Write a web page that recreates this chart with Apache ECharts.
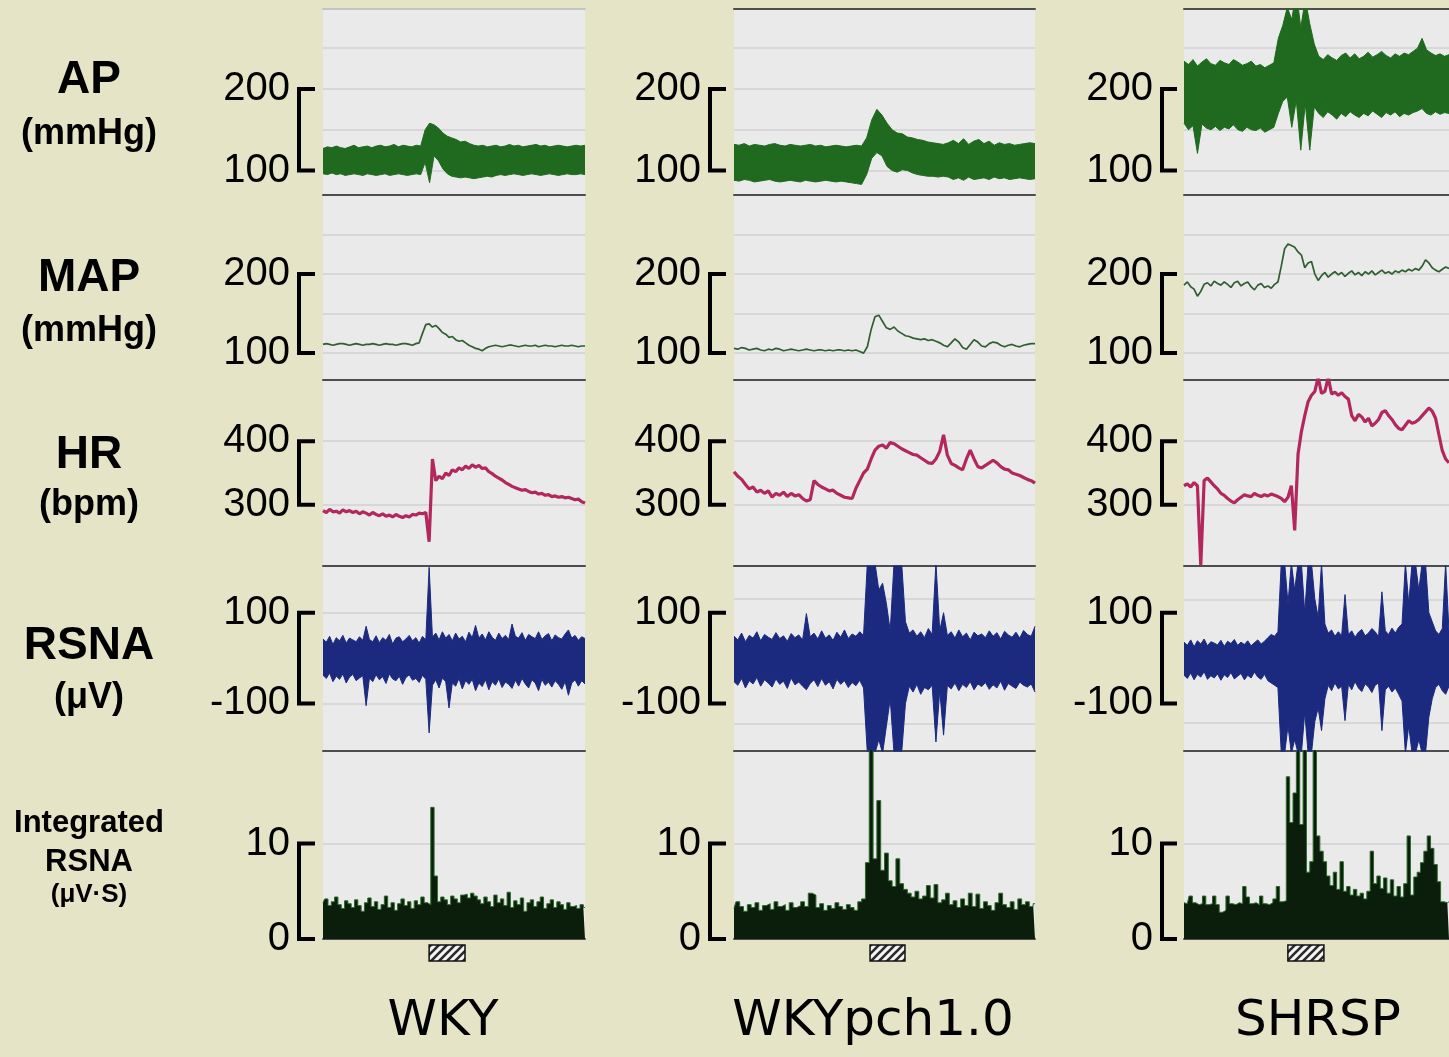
<!DOCTYPE html>
<html><head><meta charset="utf-8">
<script src="https://cdn.jsdelivr.net/npm/echarts@6/dist/echarts.min.js"></script>
<style>html,body{margin:0;padding:0;background:#e6e4c7;}#c{width:1449px;height:1057px;}</style>
</head><body><div id="c"></div>
<script>
// ---------------- DATA ----------------
const strains = ['WKY', 'WKYpch1.0', 'SHRSP'];
const rowTitles = ['AP', 'MAP', 'HR', 'RSNA'];
const rowUnits = ['(mmHg)', '(mmHg)', '(bpm)', '(\u03BCV)'];
const irsnaTitle = ['Integrated', 'RSNA', '(\u03BCV\u00B7S)'];

// scale-bar tick values per row
const apTicks = [100, 200];
const mapTicks = [100, 200];
const hrTicks = [300, 400];
const rsnaTicks = [-100, 100];
const irsnaTicks = [0, 10];

// background grid lines per row
const apGridVals = [100, 150, 200, 250];
const mapGridVals = [100, 150, 200, 250];
const hrGridVals = [300, 400];
const rsnaGridVals = [[-100, 100], [-145, 130], [-143, 128]];
const irsnaGridVals = [10];

// stimulus period (percent of recording time)
const stimStart = [40.5, 45.2, 39.2];
const stimEnd = [54.2, 56.8, 52.8];

// ---- WKY ----
const wkyApUpper = [127,129,128,130,128,127,129,131,128,129,130,128,130,131,129,130,132,129,131,130,129,131,130,
  150,158,156,152,146,142,140,138,135,136,133,131,130,131,129,130,131,
  129,130,132,130,131,129,130,131,132,130,131,129,130,131,130,129,130,131,130,131];
const wkyApLower = [96,95,97,95,96,94,95,96,95,94,96,95,94,95,96,94,95,96,95,94,95,96,95,
  110,85,118,112,102,96,93,92,91,92,91,90,91,92,93,92,94,
  95,94,95,96,95,94,95,96,95,94,95,96,95,94,95,96,95,95,96,95];
const wkyMap = [111,112,111,110,111,112,112,111,110,111,112,111,110,111,111,112,111,110,111,112,111,111,110,111,112,112,111,110,112,
  113,125,136,137,133,135,131,126,124,120,121,117,115,116,113,110,108,106,105,103,106,108,
  109,110,109,108,109,110,110,109,108,109,110,109,109,110,108,109,110,109,109,108,109,110,109,109,110,109,108,109,109];
const wkyHr = [291,288,293,289,290,287,292,289,291,288,290,286,289,287,284,288,285,283,286,282,284,281,285,282,280,283,281,285,284,287,286,288,
  242,372,338,345,341,350,346,355,352,358,355,361,357,363,359,362,357,358,352,349,345,342,339,335,332,329,327,325,323,324,
  321,319,320,317,318,315,316,313,314,312,313,311,312,310,308,309,305,303];
const wkyRsnaUpper = [42,35,48,30,45,38,50,33,44,40,36,47,39,70,
  41,36,49,34,45,39,52,31,44,47,36,42,50,38,45,33,48,40,200,
  46,55,40,58,44,52,38,55,42,48,36,57,45,72,
  44,53,40,58,46,39,55,43,50,41,75,
  48,44,56,39,52,47,43,58,41,49,54,38,51,45,42,53,62,44,50,39,47,43];
const wkyRsnaLower = [-38,-45,-33,-52,-40,-47,-35,-55,-42,-36,-50,-44,-39,-105,
  -44,-52,-37,-48,-41,-56,-35,-46,-50,-40,-58,-43,-37,-49,-45,-54,-38,-47,-165,
  -60,-48,-66,-44,-52,-110,-55,-62,-45,-68,-50,-58,-47,-72,
  -55,-63,-48,-70,-52,-60,-46,-65,-53,-58,-67,
  -49,-62,-45,-57,-66,-48,-55,-72,-47,-60,-53,-64,-50,-58,-69,-52,-82,-55,-48,-62,-50,-57];
const wkyIrsna = [3.8,4.2,3.5,3.9,4.4,3.6,3.2,4.0,3.7,3.3,4.1,3.5,2.9,3.8,4.3,3.4,3.9,3.1,3.6,4.5,3.3,3.8,3.0,3.7,4.2,3.5,3.9,3.2,4.0,3.6,4.4,3.8,
  3.6,13.8,6.6,
  3.9,4.4,4.1,3.6,4.5,4.2,3.8,4.6,4.7,4.3,4.8,4.5,4.1,3.7,4.4,3.9,3.4,4.6,3.8,4.2,3.5,4.9,3.3,4.0,3.6,4.3,2.9,3.8,4.1,3.4,3.9,4.4,3.2,3.7,4.1,3.3,3.9,3.6,3.1,3.8,3.4,3.5,3.2,3.6,3.3];

// ---- WKYpch1.0 ----
const pchApUpper = [132,131,133,130,132,131,130,132,133,131,130,132,131,130,131,132,130,131,129,130,131,130,129,130,131,130,
  140,162,175,168,158,150,146,145,141,140,138,137,135,134,133,132,
  134,137,133,139,132,136,138,133,136,131,134,132,133,131,132,133,134,133];
const pchApLower = [88,87,89,88,86,87,88,89,87,86,87,88,87,86,88,87,86,87,88,87,86,87,86,85,84,83,
  95,115,122,118,105,100,98,101,100,97,95,94,93,93,92,93,
  92,89,91,88,92,89,90,91,89,92,90,91,89,90,91,90,89,90];
const pchMap = [106,105,107,106,104,105,106,104,103,105,104,106,105,103,104,105,104,103,104,105,104,103,104,104,103,104,103,104,104,103,104,103,104,102,
  100,108,130,146,148,140,132,130,133,128,125,122,121,119,118,117,118,116,117,115,113,110,108,113,118,114,107,105,111,117,
  114,109,108,112,114,113,110,108,110,111,109,108,110,111,112,112];
const pchHr = [352,345,340,332,325,328,320,323,318,322,312,318,315,320,313,318,314,316,310,306,
  308,338,332,328,325,322,323,318,315,312,311,310,326,338,350,356,372,386,392,394,
  389,398,396,392,388,385,382,379,378,374,370,366,365,372,384,410,378,365,362,358,
  355,372,386,372,360,358,362,366,370,366,360,356,355,350,348,346,343,340,338,334];
const pchRsnaUpper = [48,40,55,36,50,44,58,38,52,46,41,56,43,49,37,54,45,51,40,98,
  47,55,42,60,44,51,39,57,46,62,43,53,48,58,50,
  210,210,210,150,165,120,60,210,210,210,80,
  55,62,48,58,45,65,52,210,60,100,
  50,58,44,62,47,55,40,57,49,53,45,60,48,56,42,59,51,46,57,44,61,52,48,70];
const pchRsnaLower = [-52,-60,-45,-66,-50,-57,-43,-62,-48,-55,-64,-46,-58,-51,-67,-44,-59,-53,-62,-70,
  -56,-48,-63,-45,-60,-52,-68,-47,-58,-50,-65,-54,-61,-49,-66,
  -210,-210,-210,-180,-210,-150,-90,-210,-210,-210,-100,
  -62,-75,-58,-80,-65,-70,-60,-185,-72,-170,
  -60,-68,-55,-72,-58,-65,-52,-70,-57,-63,-54,-69,-59,-66,-51,-71,-56,-62,-67,-53,-60,-64,-57,-75];
const pchIrsna = [3.2,3.9,3.4,2.9,3.6,3.3,3.8,3.0,3.5,3.7,3.1,3.9,3.4,3.6,3.0,3.8,3.3,3.5,3.9,3.4,
  4.8,4.6,3.3,3.7,3.0,3.5,3.2,3.8,3.4,3.1,3.6,3.3,3.0,3.9,
  4.2,8.0,25,8.4,14.5,7.2,9.0,6.1,5.5,8.4,5.8,5.2,4.8,4.4,5.0,4.2,4.5,5.6,4.3,5.7,
  3.8,4.1,4.8,3.6,4.0,3.3,4.2,3.5,4.8,3.4,4.7,3.2,3.9,3.5,3.0,3.8,4.8,3.6,3.3,3.9,3.1,4.2,3.6,3.9,3.4,3.7];

// ---- SHRSP ----
const shrspApUpper = [234,230,236,228,233,237,231,229,235,232,230,236,233,229,231,234,228,230,226,229,232,
  262,278,300,285,320,275,310,280,255,
  240,236,242,238,235,241,244,238,243,237,240,245,239,242,246,241,238,243,240,244,242,246,250,262,248,244,241,243,240,242];
const shrspApLower = [158,150,155,121,157,152,150,154,149,153,151,156,150,148,153,150,149,152,147,150,153,
  170,185,190,153,186,125,182,125,178,
  170,165,172,168,163,170,166,172,168,165,170,167,173,169,165,171,168,172,166,170,168,171,173,176,170,168,172,169,171,170];
const shrspMap = [186,190,184,181,172,178,187,189,185,191,188,186,190,187,183,189,191,185,188,190,184,180,186,188,183,185,182,187,
  190,210,232,238,236,234,228,224,208,214,216,200,192,198,202,196,200,203,199,202,197,201,204,199,202,198,
  203,200,204,199,202,205,201,203,200,204,202,205,203,206,204,207,205,210,218,214,208,205,203,206,209,207];
const shrspHr = [330,333,328,335,330,205,338,342,336,330,325,318,315,310,306,303,308,312,316,314,
  313,318,315,313,316,314,317,315,313,310,305,312,330,260,380,415,440,462,472,478,
  500,475,478,500,474,477,472,476,470,466,440,432,442,438,430,436,424,428,434,445,
  448,440,434,426,420,418,425,432,428,430,434,440,446,452,447,436,410,385,372,366];
const shrspRsnaUpper = [35,28,40,25,38,31,42,27,36,33,29,39,26,37,32,41,28,35,30,38,27,34,40,31,37,45,52,48,58,
  210,210,120,210,150,210,210,100,210,210,130,90,210,75,
  55,62,48,58,50,140,52,60,46,57,63,49,55,65,58,47,146,60,52,66,55,68,75,
  210,120,210,210,150,210,210,100,80,
  60,52,65,210,58];
const shrspRsnaLower = [-38,-45,-33,-48,-36,-42,-30,-47,-39,-44,-35,-49,-37,-43,-32,-46,-40,-34,-48,-38,-44,-31,-42,-47,-36,-50,-55,-60,-65,
  -210,-210,-150,-210,-180,-210,-210,-120,-210,-210,-140,-110,-160,-90,
  -60,-72,-55,-68,-62,-138,-58,-70,-52,-66,-74,-57,-64,-76,-60,-55,-160,-70,-62,-75,-66,-80,-95,
  -210,-150,-210,-210,-180,-210,-210,-130,-90,
  -65,-58,-72,-80,-62];
const shrspIrsna = [3.8,3.7,4.5,3.8,3.6,3.7,4.5,3.6,3.7,4.5,3.6,2.8,3.0,4.5,3.7,3.6,3.8,3.7,5.5,4.4,
  3.7,3.8,3.6,4.5,3.7,3.6,3.8,4.2,5.5,3.9,4.0,17.0,12.2,15.3,25,12.0,25,7.0,8.1,25,
  10.8,9.2,8.1,6.6,5.6,7.0,5.2,8.1,5.0,5.5,4.6,5.2,4.5,4.8,4.2,5.0,9.2,5.8,6.6,5.3,
  6.4,4.8,6.2,4.5,5.5,4.4,5.8,10.8,4.6,6.5,7.0,8.0,9.2,10.8,9.5,7.8,6.0,3.9,3.8,3.9];

// ---------------- LAYOUT / STYLE ----------------
const colX = [[323, 585], [734, 1035], [1184, 1449]];
const rowY = [[9, 195], [195, 380], [380, 566], [566, 751], [751, 939]];
const rowRange = [[70, 298], [66, 300], [204, 496], [-205, 203], [0, 19.7]];
const bracketX = [[299, 315], [710, 726], [1162, 1177]];
const titleX = [443, 873, 1318];
const topLineColor = ['#c4c4c4', '#4d4d4d', '#4d4d4d'];
const ticksByRow = [apTicks, mapTicks, hrTicks, rsnaTicks, irsnaTicks];

const data = [
  {apU: wkyApUpper, apL: wkyApLower, map: wkyMap, hr: wkyHr, rsU: wkyRsnaUpper, rsL: wkyRsnaLower, ir: wkyIrsna},
  {apU: pchApUpper, apL: pchApLower, map: pchMap, hr: pchHr, rsU: pchRsnaUpper, rsL: pchRsnaLower, ir: pchIrsna},
  {apU: shrspApUpper, apL: shrspApLower, map: shrspMap, hr: shrspHr, rsU: shrspRsnaUpper, rsL: shrspRsnaLower, ir: shrspIrsna}
];

const C_AP = '#1f6a1f', C_MAP = '#2f5f2f', C_HR = '#b2285c', C_RSNA = '#1b2a7e', C_IR = '#0b1d0b', C_IR_EDGE = '#2a6a2a';
const PANEL_BG = '#eaeaea', GRIDLINE = '#d0d0d0', SEP = '#4d4d4d';
const FONT = '"Liberation Sans", Arial, sans-serif';

function idx(n) { return Array.from({length: n}, (_, i) => i); }
function diffs(u, l) { return u.map((v, i) => v - l[i]); }

// hatch pattern for stimulus bar
const pc = document.createElement('canvas'); pc.width = 8; pc.height = 8;
const pctx = pc.getContext('2d');
pctx.fillStyle = '#f4f4f4'; pctx.fillRect(0, 0, 8, 8);
pctx.strokeStyle = '#2a2a2a'; pctx.lineWidth = 2.6; pctx.beginPath();
pctx.moveTo(-1, 9); pctx.lineTo(9, -1); pctx.moveTo(-3, 3); pctx.lineTo(3, -3); pctx.moveTo(5, 11); pctx.lineTo(11, 5);
pctx.stroke();

const grids = [], xAxes = [], yAxes = [], series = [];
const extraX = [];
function addGrid(left, top, width, height, opts) {
  grids.push(Object.assign({left, top, width, height, containLabel: false}, opts || {}));
  return grids.length - 1;
}

for (let c = 0; c < 3; c++) {
  const d = data[c];
  for (let r = 0; r < 5; r++) {
    const [x0, x1] = colX[c], [y0, y1] = rowY[r];
    const n = r === 0 ? d.apU.length : r === 1 ? d.map.length : r === 2 ? d.hr.length : r === 3 ? d.rsU.length : d.ir.length;
    const g = addGrid(x0, y0, x1 - x0, y1 - y0, {show: true, backgroundColor: PANEL_BG, borderWidth: 0});
    xAxes.push({gridIndex: g, type: 'category', data: idx(n), boundaryGap: false, position: 'bottom',
      axisLine: {show: true, onZero: false, lineStyle: {color: SEP, width: 2}},
      axisTick: {show: false}, axisLabel: {show: false}, splitLine: {show: false}});
    if (r === 0) {
      extraX.push({gridIndex: g, type: 'category', data: idx(n), boundaryGap: false, position: 'top',
        axisLine: {show: true, onZero: false, lineStyle: {color: topLineColor[c], width: 2}},
        axisTick: {show: false}, axisLabel: {show: false}, splitLine: {show: false}});
    }
    yAxes.push({gridIndex: g, type: 'value', min: rowRange[r][0], max: rowRange[r][1], show: false, splitLine: {show: false}});
    const gv = r === 0 ? apGridVals : r === 1 ? mapGridVals : r === 2 ? hrGridVals : r === 3 ? rsnaGridVals[c] : irsnaGridVals;
    const markLine = {silent: true, z: 1, symbol: ['none', 'none'], label: {show: false}, animation: false,
      lineStyle: {color: GRIDLINE, width: 1.5, type: 'solid'},
      data: gv.map(v => ({yAxis: v}))};
    const base = {xAxisIndex: g, yAxisIndex: g, symbol: 'none', silent: true, z: 3, animation: false};
    if (r === 0 || r === 3) {
      const u = r === 0 ? d.apU : d.rsU, l = r === 0 ? d.apL : d.rsL, col = r === 0 ? C_AP : C_RSNA;
      series.push(Object.assign({}, base, {type: 'line', data: l, stack: 'b' + g, stackStrategy: 'all',
        lineStyle: {color: col, width: 1}, markLine}));
      series.push(Object.assign({}, base, {type: 'line', data: diffs(u, l), stack: 'b' + g, stackStrategy: 'all',
        lineStyle: {color: col, width: 1}, areaStyle: {color: col, opacity: 1}}));
    } else if (r === 1) {
      series.push(Object.assign({}, base, {type: 'line', data: d.map, lineStyle: {color: C_MAP, width: 1.7}, markLine}));
    } else if (r === 2) {
      series.push(Object.assign({}, base, {type: 'line', data: d.hr, lineStyle: {color: C_HR, width: 3.2}, markLine}));
    } else {
      series.push(Object.assign({}, base, {type: 'line', step: 'middle', data: d.ir,
        lineStyle: {color: C_IR_EDGE, width: 1}, areaStyle: {color: C_IR, opacity: 1, origin: 'start'}, markLine}));
    }
  }
}

// scale brackets (tick labels drawn by the bracket's own y axis)
for (let c = 0; c < 3; c++) {
  for (let r = 0; r < 5; r++) {
    const [y0, y1] = rowY[r];
    const [bx0, bx1] = bracketX[c];
    const g = addGrid(bx0, y0, bx1 - bx0, y1 - y0);
    const [t0, t1] = ticksByRow[r];
    xAxes.push({gridIndex: g, type: 'value', min: 0, max: 1, show: false});
    yAxes.push({gridIndex: g, type: 'value', min: rowRange[r][0], max: rowRange[r][1], show: true, position: 'left',
      axisLine: {show: false}, axisTick: {show: false, customValues: [t0, t1]}, splitLine: {show: false},
      axisLabel: {show: true, customValues: [t0, t1], margin: 9, fontSize: 40, fontFamily: FONT, color: '#000',
        showMinLabel: true, showMaxLabel: true}});
    series.push({type: 'line', xAxisIndex: g, yAxisIndex: g, symbol: 'none', silent: true, animation: false, clip: false,
      data: [[1, t1], [0, t1], [0, t0], [1, t0]], lineStyle: {color: '#000', width: 4, cap: 'butt', join: 'miter'}});
  }
}

// stimulus bars
for (let c = 0; c < 3; c++) {
  const [x0, x1] = colX[c];
  const g = addGrid(x0, 945, x1 - x0, 16);
  xAxes.push({gridIndex: g, type: 'value', min: 0, max: 100, show: false});
  yAxes.push({gridIndex: g, type: 'value', min: 0, max: 1, show: false});
  series.push({type: 'custom', xAxisIndex: g, yAxisIndex: g, silent: true, animation: false,
    data: [[stimStart[c], stimEnd[c]]],
    renderItem: (params, api) => {
      const p0 = api.coord([api.value(0), 1]);
      const p1 = api.coord([api.value(1), 0]);
      return {type: 'rect', shape: {x: p0[0], y: p0[1], width: p1[0] - p0[0], height: p1[1] - p0[1]},
        style: {fill: {image: pc, repeat: 'repeat'}, stroke: '#111', lineWidth: 1.5}};
    }});
}
extraX.forEach(a => xAxes.push(a));

// texts
const graphic = [];
function txt(text, x, y, font) {
  graphic.push({type: 'text', x, y, silent: true,
    style: {text, font, fill: '#000', align: 'center', verticalAlign: 'middle', textAlign: 'center', textVerticalAlign: 'middle'}});
}
const titleY = [80, 278, 455, 646], unitY = [134, 331, 505, 698];
for (let r = 0; r < 4; r++) {
  txt(rowTitles[r], 89, titleY[r], 'bold 46px ' + FONT);
  txt(rowUnits[r], 89, unitY[r], 'bold 36px ' + FONT);
}
txt(irsnaTitle[0], 89, 823, 'bold 31px ' + FONT);
txt(irsnaTitle[1], 89, 862, 'bold 31px ' + FONT);
txt(irsnaTitle[2], 89, 895, 'bold 26px ' + FONT);
for (let c = 0; c < 3; c++) txt(strains[c], titleX[c], 1022, '50px "DejaVu Sans", sans-serif');

const chart = echarts.init(document.getElementById('c'), null, {renderer: 'canvas'});
chart.setOption({backgroundColor: '#e6e4c7', animation: false, grid: grids, xAxis: xAxes, yAxis: yAxes, series, graphic});
</script></body></html>
